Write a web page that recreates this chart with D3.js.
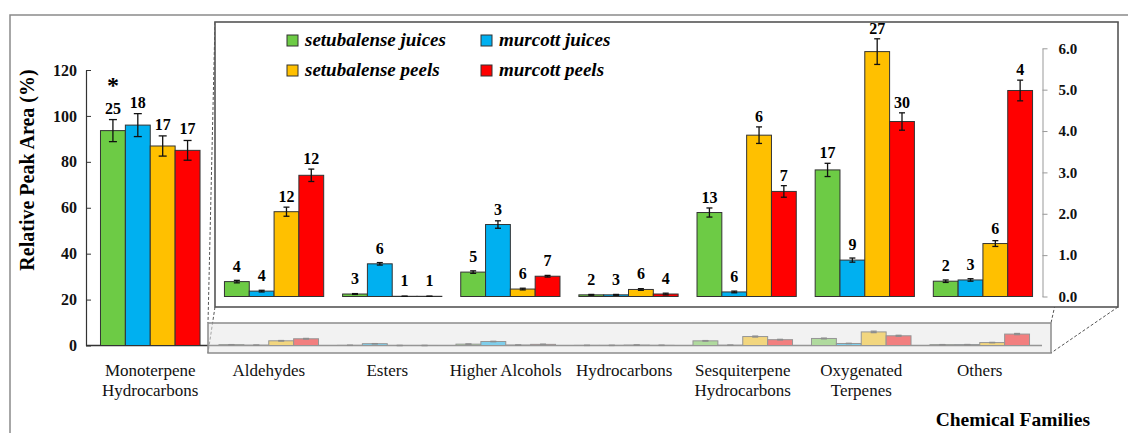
<!DOCTYPE html>
<html>
<head>
<meta charset="utf-8">
<script src="https://cdn.jsdelivr.net/npm/d3@7"></script>
<style>
  body { margin: 0; background: #fff; }
</style>
</head>
<body>
<svg width="1128" height="433"></svg>
<script>
// chemical families and sample groups
var categories = ["Monoterpene\nHydrocarbons", "Aldehydes", "Esters", "Higher Alcohols", "Hydrocarbons",
  "Sesquiterpene\nHydrocarbons", "Oxygenated\nTerpenes", "Others"];
var series = ["setubalense juices", "murcott juices", "setubalense peels", "murcott peels"];
var colors = ["#6dcb45", "#00b0f0", "#ffc000", "#ff0000"];

// relative peak area (%) per family
var setubalenseJuices = [93.6, 0.36, 0.06, 0.59, 0.04, 2.03, 3.06, 0.37];
var murcottJuices     = [96.0, 0.13, 0.79, 1.74, 0.04, 0.11, 0.88, 0.40];
var setubalensePeels  = [86.9, 2.05, 0.005, 0.18, 0.17, 3.90, 5.92, 1.28];
var murcottPeels      = [85.0, 2.93, 0.005, 0.49, 0.06, 2.54, 4.23, 4.98];

// standard deviations
var setubalenseJuicesSd = [4.8, 0.03, 0.01, 0.03, 0.01, 0.11, 0.16, 0.03];
var murcottJuicesSd     = [5.0, 0.02, 0.03, 0.09, 0.01, 0.02, 0.05, 0.03];
var setubalensePeelsSd  = [4.4, 0.11, 0, 0.02, 0.02, 0.20, 0.31, 0.07];
var murcottPeelsSd      = [4.3, 0.15, 0, 0.02, 0.02, 0.14, 0.21, 0.25];

// number of compounds
var setubalenseJuicesN = [25, 4, 3, 5, 2, 13, 17, 2];
var murcottJuicesN     = [18, 4, 6, 3, 3, 6, 9, 3];
var setubalensePeelsN  = [17, 12, 1, 6, 6, 6, 27, 6];
var murcottPeelsN      = [17, 12, 1, 7, 4, 7, 30, 4];

var mainTicks = [0, 20, 40, 60, 80, 100, 120];
var insetTicks = [0, 1, 2, 3, 4, 5, 6];

var values = [setubalenseJuices, murcottJuices, setubalensePeels, murcottPeels];
var sds = [setubalenseJuicesSd, murcottJuicesSd, setubalensePeelsSd, murcottPeelsSd];
var counts = [setubalenseJuicesN, murcottJuicesN, setubalensePeelsN, murcottPeelsN];

var FONT = "'Liberation Serif', 'Times New Roman', Tinos";

var rows = [];
categories.forEach(function (c, i) {
  series.forEach(function (s, j) {
    rows.push({ cat: c, idx: i, s: s, color: colors[j], v: values[j][i], sd: sds[j][i], n: counts[j][i] });
  });
});
var mainRows = rows.filter(function (d) { return d.idx === 0; });
var smallRows = rows.filter(function (d) { return d.idx > 0; });

var svg = d3.select("svg").style("font-family", FONT);

// scales
var x = d3.scaleBand().domain(categories).range([91, 1039]).paddingInner(0.16).paddingOuter(0.08);
var xs = d3.scaleBand().domain(series).range([0, x.bandwidth()]);
var y = d3.scaleLinear().domain([0, 120]).range([345.5, 70]);

var xi = d3.scaleBand().domain(categories.slice(1)).range([215, 1042]).paddingInner(0.16).paddingOuter(0.08);
var xsi = d3.scaleBand().domain(series).range([0, xi.bandwidth()]);
var yi = d3.scaleLinear().domain([0, 6]).range([296.5, 48.3]);

// outer frame
svg.append("path")
  .attr("d", "M10,433 L10,15 L1128,15")
  .attr("fill", "none").attr("stroke", "#8a8a8a").attr("stroke-width", 1.5);

// dashed connectors between zoom box and inset
var box = { x0: 208, x1: 1051, y0: 323, y1: 353 };
var ins = { x0: 215, x1: 1118, y0: 22, y1: 307 };
var conn = [
  [ins.x0, ins.y0, box.x0, box.y0], [ins.x0, ins.y1, box.x0, box.y1],
  [ins.x1, ins.y0, box.x1, box.y0], [ins.x1, ins.y1, box.x1, box.y1]
];
svg.selectAll("line.conn").data(conn).enter().append("line")
  .attr("class", "conn")
  .attr("x1", function (d) { return d[0]; }).attr("y1", function (d) { return d[1]; })
  .attr("x2", function (d) { return d[2]; }).attr("y2", function (d) { return d[3]; })
  .attr("stroke", "#555").attr("stroke-width", 1).attr("stroke-dasharray", "3,2");

// main x axis line
svg.append("line")
  .attr("x1", 86).attr("x2", 1042).attr("y1", y(0)).attr("y2", y(0))
  .attr("stroke", "#333").attr("stroke-width", 1.5);

function errorBars(g, data, xf, yf, cap, col) {
  var e = g.selectAll("g.err").data(data).enter().append("g").attr("class", "err")
    .attr("stroke", col).attr("stroke-width", 1.3);
  e.append("line")
    .attr("x1", function (d) { return xf(d); }).attr("x2", function (d) { return xf(d); })
    .attr("y1", function (d) { return yf(d.v + d.sd); }).attr("y2", function (d) { return yf(Math.max(0, d.v - d.sd)); });
  e.append("line")
    .attr("x1", function (d) { return xf(d) - cap; }).attr("x2", function (d) { return xf(d) + cap; })
    .attr("y1", function (d) { return yf(d.v + d.sd); }).attr("y2", function (d) { return yf(d.v + d.sd); });
  e.append("line")
    .attr("x1", function (d) { return xf(d) - cap; }).attr("x2", function (d) { return xf(d) + cap; })
    .attr("y1", function (d) { return yf(Math.max(0, d.v - d.sd)); }).attr("y2", function (d) { return yf(Math.max(0, d.v - d.sd)); });
}

// small values at main scale (inside the zoom box)
var strip = svg.append("g");
strip.selectAll("rect").data(smallRows).enter().append("rect")
  .attr("x", function (d) { return x(d.cat) + xs(d.s); })
  .attr("width", xs.bandwidth())
  .attr("y", function (d) { return y(d.v); })
  .attr("height", function (d) { return y(0) - y(d.v); })
  .attr("fill", function (d) { return d.color; })
  .attr("stroke", "#333").attr("stroke-width", 1);
errorBars(strip, smallRows, function (d) { return x(d.cat) + xs(d.s) + xs.bandwidth() / 2; }, y, 3, "#222");

svg.append("rect")
  .attr("x", box.x0).attr("y", box.y0).attr("width", box.x1 - box.x0).attr("height", box.y1 - box.y0)
  .attr("fill", "#e8e8e8").attr("fill-opacity", 0.55)
  .attr("stroke", "#8c8c8c").attr("stroke-width", 1.5);

// main y axis
var yAxis = svg.append("g")
  .attr("transform", "translate(86,0)")
  .call(d3.axisLeft(y).tickValues(mainTicks).tickSizeInner(-5).tickSizeOuter(0).tickPadding(9));
yAxis.select(".domain").attr("stroke", "#333").attr("stroke-width", 1.2);
yAxis.selectAll(".tick line").attr("stroke", "#333");
yAxis.selectAll("text").style("font-family", FONT).attr("font-size", 16).attr("font-weight", "bold").attr("fill", "#111");

// main bars
var main = svg.append("g");
main.selectAll("rect").data(mainRows).enter().append("rect")
  .attr("x", function (d) { return x(d.cat) + xs(d.s); })
  .attr("width", xs.bandwidth())
  .attr("y", function (d) { return y(d.v); })
  .attr("height", function (d) { return y(0) - y(d.v); })
  .attr("fill", function (d) { return d.color; })
  .attr("stroke", "#333").attr("stroke-width", 1);
errorBars(main, mainRows, function (d) { return x(d.cat) + xs(d.s) + xs.bandwidth() / 2; }, y, 4, "#111");

main.selectAll("text.n").data(mainRows).enter().append("text")
  .attr("class", "n")
  .attr("x", function (d) { return x(d.cat) + xs(d.s) + xs.bandwidth() / 2; })
  .attr("y", function (d) { return Math.min(y(d.v) - 10, y(d.v + d.sd) - 6); })
  .attr("text-anchor", "middle").attr("font-size", 16).attr("font-weight", "bold")
  .text(function (d) { return d.n; });

// significance mark
main.append("text")
  .attr("x", x(categories[0]) + xs(series[0]) + xs.bandwidth() / 2)
  .attr("y", 93)
  .attr("text-anchor", "middle").attr("font-size", 24).attr("font-weight", "bold")
  .text("*");

// x labels
var xAxis = svg.append("g")
  .attr("transform", "translate(0," + y(0) + ")")
  .call(d3.axisBottom(x).tickSize(0).tickPadding(0).tickFormat(""));
xAxis.select(".domain").remove();
xAxis.selectAll(".tick").append("text")
  .style("font-family", FONT)
  .attr("text-anchor", "middle").attr("font-size", 17).attr("fill", "#111")
  .each(function (d) {
    var t = d3.select(this);
    d.split("\n").forEach(function (line, k) {
      t.append("tspan").attr("x", 0).attr("y", 30 + k * 20).text(line);
    });
  });

// inset
var inset = svg.append("g");
inset.append("rect")
  .attr("x", ins.x0).attr("y", ins.y0).attr("width", ins.x1 - ins.x0).attr("height", ins.y1 - ins.y0)
  .attr("fill", "#fff").attr("stroke", "#555").attr("stroke-width", 1.6);

inset.selectAll("rect.bar").data(smallRows).enter().append("rect")
  .attr("class", "bar")
  .attr("x", function (d) { return xi(d.cat) + xsi(d.s); })
  .attr("width", xsi.bandwidth())
  .attr("y", function (d) { return yi(d.v); })
  .attr("height", function (d) { return yi(0) - yi(d.v); })
  .attr("fill", function (d) { return d.color; })
  .attr("stroke", "#333").attr("stroke-width", 1);
errorBars(inset, smallRows, function (d) { return xi(d.cat) + xsi(d.s) + xsi.bandwidth() / 2; }, yi, 3, "#111");

inset.selectAll("text.n").data(smallRows).enter().append("text")
  .attr("class", "n")
  .attr("x", function (d) { return xi(d.cat) + xsi(d.s) + xsi.bandwidth() / 2; })
  .attr("y", function (d) { return Math.min(yi(d.v) - 10, yi(d.v + d.sd) - 5); })
  .attr("text-anchor", "middle").attr("font-size", 16).attr("font-weight", "bold")
  .text(function (d) { return d.n; });

var yAxisR = inset.append("g")
  .attr("transform", "translate(1042.5,0)")
  .call(d3.axisRight(yi).tickValues(insetTicks).tickSizeInner(5).tickSizeOuter(0).tickPadding(11)
    .tickFormat(d3.format(".1f")));
yAxisR.select(".domain").attr("stroke", "#999");
yAxisR.selectAll(".tick line").attr("stroke", "#999");
yAxisR.selectAll("text").style("font-family", FONT).attr("font-size", 15).attr("font-weight", "bold").attr("fill", "#111");

// legend
var legendPos = [[287, 35], [481, 35], [287, 65], [481, 65]];
var legend = inset.selectAll("g.leg").data(series).enter().append("g")
  .attr("class", "leg")
  .attr("transform", function (d, i) { return "translate(" + legendPos[i][0] + "," + legendPos[i][1] + ")"; });
legend.append("rect")
  .attr("width", 11).attr("height", 11)
  .attr("fill", function (d, i) { return colors[i]; })
  .attr("stroke", "#333").attr("stroke-width", 1);
legend.append("text")
  .attr("x", 18).attr("y", 11)
  .attr("font-size", 19).attr("font-weight", "bold").attr("font-style", "italic")
  .text(function (d) { return d; });

// axis titles
svg.append("text")
  .attr("transform", "translate(34,170) rotate(-90)")
  .attr("text-anchor", "middle").attr("font-size", 20).attr("font-weight", "bold")
  .text("Relative Peak Area (%)");

svg.append("text")
  .attr("x", 1090).attr("y", 426)
  .attr("text-anchor", "end").attr("font-size", 19.5).attr("font-weight", "bold")
  .text("Chemical Families");
</script>
</body>
</html>
